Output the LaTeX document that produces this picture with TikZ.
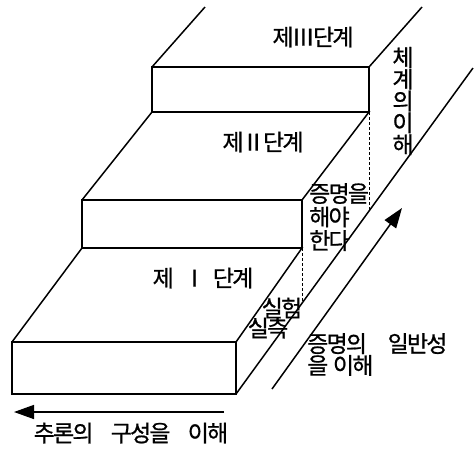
\documentclass[tikz,border=0pt]{standalone}
\usepackage{fontspec}
\newfontfamily\kr[FakeBold=0.8,LetterSpace=-8]{Noto Sans CJK KR}
\usetikzlibrary{arrows.meta}
\begin{document}
\begin{tikzpicture}[x=1pt,y=-1pt,
  edge/.style={line width=1.5pt, line join=miter},
  hid/.style={densely dashed, line width=0.7pt},
  lab/.style={font=\kr\fontsize{23}{20.5}\selectfont, inner sep=0pt},
  arr/.style={line width=1.5pt,-{Triangle[length=20pt,width=14pt]}}]
\useasboundingbox (0,0) rectangle (474,448);
% corners
\coordinate (A1) at (12,342);  \coordinate (A2) at (236,342);
\coordinate (A3) at (236,394); \coordinate (A4) at (12,394);
\coordinate (B1) at (82,200);  \coordinate (B2) at (302,200);
\coordinate (B3) at (302,248); \coordinate (B4) at (82,248);
\coordinate (C1) at (152,67);  \coordinate (C2) at (369,67);
\coordinate (C3) at (369,112); \coordinate (C4) at (152,112);
\coordinate (TL) at (205,7);   \coordinate (TR) at (422,7);
\coordinate (G) at (473,68);
\coordinate (D1) at (302,303); \coordinate (D2) at (369,211);
% step I
\draw[edge] (A1) rectangle (A3);
\draw[edge] (A1) -- (B4) -- (B3) -- (A2);
\draw[edge] (A3) -- (G);
% step II
\draw[edge] (B1) rectangle (B3);
\draw[edge] (B1) -- (C4) -- (C3) -- (B2);
% step III
\draw[edge] (C1) rectangle (C3);
\draw[edge] (C1) -- (TL);
\draw[edge] (C2) -- (TR);
% hidden lines
\draw[hid] (B3) -- (D1);
\draw[hid] (C3) -- (D2);
% arrows
\coordinate (H1) at (224,412); \coordinate (H2) at (14,412);
\draw[arr] (H1) -- (H2);
\coordinate (V1) at (272,389); \coordinate (V2) at (402,208);
\draw[arr] (V1) -- (V2);
% labels
\node[lab] (t3) at (313,37) {제Ⅲ단계};
\node[lab] (t2) at (263,142) {제Ⅱ단계};
\node[lab] (t1) at (203,278) {제\hspace{0.4em}Ⅰ\hspace{0.3em}단계};
\node[lab, align=center] (sys) at (403,101) {체\\계\\의\\이\\해};
\node[lab, align=left, anchor=west, font=\kr\fontsize{23}{23.5}\selectfont] (must) at (309,217) {증명을\\해야\\한다};
\node[lab] (ex1) at (282,308) {실험};
\node[lab] (ex2) at (268,328) {실측};
\node[lab, align=left, anchor=north west] (gen) at (307,333) {증명의\hspace{0.9em}일반성\\을\hspace{0.2em}이해};
\node[lab] (inf) at (131,433) {추론의\hspace{0.75em}구성을\hspace{0.75em}이해};
\end{tikzpicture}
\end{document}
